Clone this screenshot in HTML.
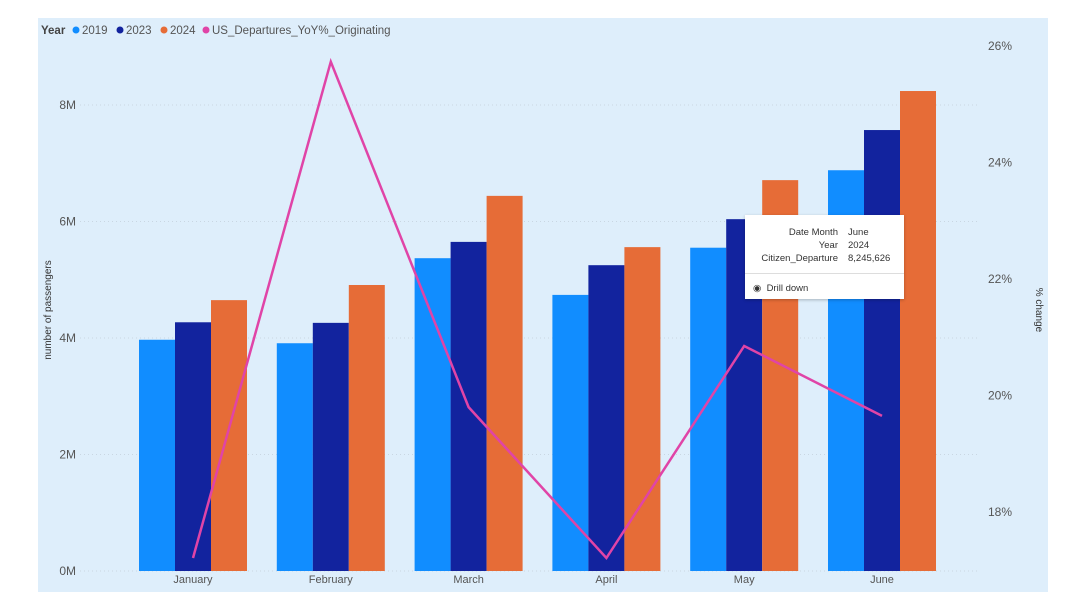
<!DOCTYPE html>
<html><head><meta charset="utf-8"><style>
body{margin:0;width:1090px;height:614px;background:#fff;overflow:hidden;font-family:"Liberation Sans",sans-serif}
svg{position:absolute;left:0;top:0}
.tt{position:absolute;left:745px;top:215px;width:159px;height:84px;background:#fff;box-shadow:0 1px 3px rgba(0,0,0,.25);font-size:9.5px;color:#333}
.tt .r{position:absolute;white-space:nowrap}
</style></head><body>
<svg id="c" width="1090" height="614"></svg>
<div class="tt">
<div class="r" style="right:66px;top:12px">Date Month</div><div class="r" style="left:103px;top:12px">June</div>
<div class="r" style="right:66px;top:25px">Year</div><div class="r" style="left:103px;top:25px">2024</div>
<div class="r" style="right:66px;top:38px">Citizen_Departure</div><div class="r" style="left:103px;top:38px">8,245,626</div>
<div style="position:absolute;left:0;right:0;top:58px;border-top:1px solid #ddd"></div>
<div class="r" style="left:8px;top:68px">&#9673;&nbsp; Drill down</div>
</div>
<script>
const months=["January","February","March","April","May","June"];
const v2019=[3.97,3.91,5.37,4.74,5.55,6.88];
const v2023=[4.27,4.26,5.65,5.25,6.04,7.57];
const v2024=[4.65,4.91,6.44,5.56,6.71,8.24];
const yoy=[17.21,25.73,19.80,17.21,20.85,19.65];
const leftTicks=[0,2,4,6,8];
const rightTicks=[18,20,22,24,26];
const NS="http://www.w3.org/2000/svg",svg=document.getElementById('c');
function mk(t,a,txt){const e=document.createElementNS(NS,t);for(const k in a)e.setAttribute(k,a[k]);if(txt!==undefined)e.textContent=txt;svg.appendChild(e);return e;}
const yL=v=>571-v*58.25, yR=p=>512-(p-18)*58.25, xC=i=>193+i*137.8;
let e=mk('rect',{x:38,y:18,width:1010,height:574,fill:'#deeefb'});

leftTicks.forEach(t=>{
 e=mk('line',{x1:80,x2:980,y1:yL(t),y2:yL(t),stroke:'#c9d6e2','stroke-dasharray':'1 3'});
 
 e=mk('text',{x:76,y:yL(t)+4,'text-anchor':'end','font-size':12,fill:'#555'},t+'M');
 
});
rightTicks.forEach(t=>{
 e=mk('text',{x:988,y:yR(t)+4,'font-size':12,fill:'#555'},t+'%');
 
});
const series=[[v2019,'#118dff',-54],[v2023,'#12239e',-18],[v2024,'#e66c37',18]];
months.forEach((m,i)=>{
 series.forEach(([d,c,o])=>{
  e=mk('rect',{x:xC(i)+o,y:yL(d[i]),width:36,height:571-yL(d[i]),fill:c});
  
 });
 e=mk('text',{x:xC(i),y:583,'text-anchor':'middle','font-size':11,fill:'#555'},m);
 
});
e=mk('polyline',{points:yoy.map((p,i)=>xC(i)+','+yR(p)).join(' '),fill:'none',stroke:'#e044a7','stroke-width':2.5});

e=mk('text',{x:51,y:310,'text-anchor':'middle','font-size':10,fill:'#333',transform:'rotate(-90 51 310)'},'number of passengers');

e=mk('text',{x:1036,y:310,'text-anchor':'middle','font-size':10,fill:'#333',transform:'rotate(90 1036 310)'},'% change');

e=mk('text',{x:41,y:34,'font-size':11.5,'font-weight':'bold',fill:'#444'},'Year');

[['2019','#118dff',76],['2023','#12239e',120],['2024','#e66c37',164],['US_Departures_YoY%_Originating','#e044a7',206]].forEach(([l,c,x])=>{
 e=mk('circle',{cx:x,cy:30,r:3.5,fill:c});
 
 e=mk('text',{x:x+6,y:34,'font-size':11.5,fill:'#555'},l);
 
});
</script>
</body></html>
